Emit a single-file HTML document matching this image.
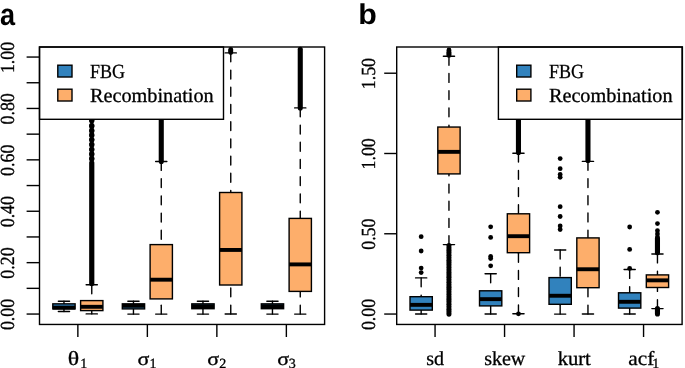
<!DOCTYPE html>
<html><head><meta charset="utf-8"><style>
html,body{margin:0;padding:0;background:#fff;width:685px;height:368px;overflow:hidden;}
svg{display:block;will-change:transform;text-rendering:geometricPrecision;}
.sf{font-family:"Liberation Serif",serif}
.sf text{stroke:#000;stroke-width:0.3px}
.ss{font-family:"Liberation Sans",sans-serif}
</style></head><body>
<svg width="685" height="368" viewBox="0 0 685 368">
<rect width="685" height="368" fill="#fff"/>
<g fill="#000">
<circle cx="91.76" cy="105.6" r="2.6"/>
<circle cx="91.76" cy="106.4" r="2.6"/>
<circle cx="91.76" cy="110.3" r="2.6"/>
<circle cx="91.76" cy="111.1" r="2.6"/>
<circle cx="91.76" cy="115" r="2.6"/>
<circle cx="91.76" cy="115.8" r="2.6"/>
<circle cx="91.76" cy="119.9" r="2.6"/>
<circle cx="91.76" cy="120.7" r="2.6"/>
<circle cx="91.76" cy="125.4" r="2.6"/>
<circle cx="91.76" cy="126.2" r="2.6"/>
<circle cx="91.76" cy="130.2" r="2.6"/>
<circle cx="91.76" cy="131" r="2.6"/>
<circle cx="91.76" cy="134.7" r="2.6"/>
<circle cx="91.76" cy="135.5" r="2.6"/>
<circle cx="91.76" cy="139.3" r="2.6"/>
<circle cx="91.76" cy="140.1" r="2.6"/>
<circle cx="91.76" cy="144.1" r="2.6"/>
<circle cx="91.76" cy="144.9" r="2.6"/>
<circle cx="91.76" cy="149" r="2.6"/>
<circle cx="91.76" cy="149.8" r="2.6"/>
<circle cx="91.76" cy="153.6" r="2.6"/>
<circle cx="91.76" cy="154.4" r="2.6"/>
<circle cx="91.76" cy="158.2" r="2.6"/>
<circle cx="91.76" cy="159" r="2.6"/>
<rect x="89.16" y="160.2" width="5.2" height="126" rx="2.6"/>
<rect x="158.71" y="97.45" width="5.1" height="66.6" rx="2.55"/>
<circle cx="230.76" cy="49.5" r="2.4"/>
<circle cx="230.76" cy="50.5" r="2.4"/>
<circle cx="230.76" cy="51.5" r="2.4"/>
<circle cx="230.76" cy="52.5" r="2.4"/>
<rect x="297.71" y="46.65" width="5.1" height="63.8" rx="2.55"/>
</g>
<g stroke="#000" stroke-width="1.4" stroke-linecap="round" fill="none">
<line x1="63.96" y1="301.3" x2="63.96" y2="303.85" stroke-dasharray="8.9 8.3"/>
<line x1="63.96" y1="311.5" x2="63.96" y2="308.9" stroke-dasharray="8.9 8.3"/>
<line x1="58.36" y1="301.3" x2="69.56" y2="301.3"/>
<line x1="58.36" y1="311.5" x2="69.56" y2="311.5"/>
<rect x="52.81" y="303.85" width="22.3" height="5.05" fill="#3182bd"/>
<line x1="52.81" y1="307.6" x2="75.11" y2="307.6" stroke-width="3.9" stroke-linecap="butt"/>
<line x1="91.76" y1="284.8" x2="91.76" y2="300.6" stroke-dasharray="8.9 8.3"/>
<line x1="91.76" y1="313.9" x2="91.76" y2="310.6" stroke-dasharray="8.9 8.3"/>
<line x1="86.16" y1="284.8" x2="97.36" y2="284.8"/>
<line x1="86.16" y1="313.9" x2="97.36" y2="313.9"/>
<rect x="80.61" y="300.6" width="22.3" height="10" fill="#fdae6b"/>
<line x1="80.61" y1="306.8" x2="102.91" y2="306.8" stroke-width="3.9" stroke-linecap="butt"/>
<line x1="133.46" y1="301.3" x2="133.46" y2="303.85" stroke-dasharray="8.9 8.3"/>
<line x1="133.46" y1="314.1" x2="133.46" y2="308.9" stroke-dasharray="8.9 8.3"/>
<line x1="127.86" y1="301.3" x2="139.06" y2="301.3"/>
<line x1="127.86" y1="314.1" x2="139.06" y2="314.1"/>
<rect x="122.31" y="303.85" width="22.3" height="5.05" fill="#3182bd"/>
<line x1="122.31" y1="305.8" x2="144.61" y2="305.8" stroke-width="3.9" stroke-linecap="butt"/>
<line x1="161.26" y1="161.5" x2="161.26" y2="244.6" stroke-dasharray="8.9 8.3"/>
<line x1="161.26" y1="314.1" x2="161.26" y2="298.9" stroke-dasharray="8.9 8.3"/>
<line x1="155.66" y1="161.5" x2="166.86" y2="161.5"/>
<line x1="155.66" y1="314.1" x2="166.86" y2="314.1"/>
<rect x="150.11" y="244.6" width="22.3" height="54.3" fill="#fdae6b"/>
<line x1="150.11" y1="279.7" x2="172.41" y2="279.7" stroke-width="3.9" stroke-linecap="butt"/>
<line x1="202.96" y1="301.3" x2="202.96" y2="303.85" stroke-dasharray="8.9 8.3"/>
<line x1="202.96" y1="314.1" x2="202.96" y2="308.7" stroke-dasharray="8.9 8.3"/>
<line x1="197.36" y1="301.3" x2="208.56" y2="301.3"/>
<line x1="197.36" y1="314.1" x2="208.56" y2="314.1"/>
<rect x="191.81" y="303.85" width="22.3" height="4.85" fill="#3182bd"/>
<line x1="191.81" y1="306.2" x2="214.11" y2="306.2" stroke-width="3.9" stroke-linecap="butt"/>
<line x1="230.76" y1="52.9" x2="230.76" y2="192.5" stroke-dasharray="8.9 8.3"/>
<line x1="230.76" y1="314" x2="230.76" y2="285" stroke-dasharray="8.9 8.3"/>
<line x1="225.16" y1="52.9" x2="236.36" y2="52.9"/>
<line x1="225.16" y1="314" x2="236.36" y2="314"/>
<rect x="219.61" y="192.5" width="22.3" height="92.5" fill="#fdae6b"/>
<line x1="219.61" y1="249.95" x2="241.91" y2="249.95" stroke-width="3.9" stroke-linecap="butt"/>
<line x1="272.46" y1="301.3" x2="272.46" y2="303.85" stroke-dasharray="8.9 8.3"/>
<line x1="272.46" y1="314.1" x2="272.46" y2="308.7" stroke-dasharray="8.9 8.3"/>
<line x1="266.86" y1="301.3" x2="278.06" y2="301.3"/>
<line x1="266.86" y1="314.1" x2="278.06" y2="314.1"/>
<rect x="261.31" y="303.85" width="22.3" height="4.85" fill="#3182bd"/>
<line x1="261.31" y1="306.2" x2="283.61" y2="306.2" stroke-width="3.9" stroke-linecap="butt"/>
<line x1="300.26" y1="107.9" x2="300.26" y2="218.4" stroke-dasharray="8.9 8.3"/>
<line x1="300.26" y1="314.1" x2="300.26" y2="291.4" stroke-dasharray="8.9 8.3"/>
<line x1="294.66" y1="107.9" x2="305.86" y2="107.9"/>
<line x1="294.66" y1="314.1" x2="305.86" y2="314.1"/>
<rect x="289.11" y="218.4" width="22.3" height="73" fill="#fdae6b"/>
<line x1="289.11" y1="264.4" x2="311.41" y2="264.4" stroke-width="3.9" stroke-linecap="butt"/>
</g>
<g fill="#000">
<circle cx="421.16" cy="236.7" r="2.4"/>
<circle cx="421.16" cy="251" r="2.4"/>
<circle cx="421.16" cy="268.1" r="2.4"/>
<circle cx="421.16" cy="272.6" r="2.4"/>
<circle cx="448.96" cy="50" r="2.4"/>
<circle cx="448.96" cy="51.08" r="2.4"/>
<circle cx="448.96" cy="52.16" r="2.4"/>
<circle cx="448.96" cy="53.24" r="2.4"/>
<circle cx="448.96" cy="54.32" r="2.4"/>
<circle cx="448.96" cy="55.4" r="2.4"/>
<circle cx="448.96" cy="245.5" r="2.55"/>
<circle cx="448.96" cy="247.95" r="2.55"/>
<circle cx="448.96" cy="250.4" r="2.55"/>
<circle cx="448.96" cy="252.85" r="2.55"/>
<circle cx="448.96" cy="255.3" r="2.55"/>
<circle cx="448.96" cy="257.75" r="2.55"/>
<circle cx="448.96" cy="260.2" r="2.55"/>
<circle cx="448.96" cy="262.65" r="2.55"/>
<circle cx="448.96" cy="265.1" r="2.55"/>
<circle cx="448.96" cy="267.55" r="2.55"/>
<circle cx="448.96" cy="270" r="2.55"/>
<circle cx="448.96" cy="272.45" r="2.55"/>
<circle cx="448.96" cy="274.9" r="2.55"/>
<circle cx="448.96" cy="277.35" r="2.55"/>
<circle cx="448.96" cy="279.8" r="2.55"/>
<circle cx="448.96" cy="282.25" r="2.55"/>
<circle cx="448.96" cy="284.7" r="2.55"/>
<circle cx="448.96" cy="287.15" r="2.55"/>
<circle cx="448.96" cy="289.6" r="2.55"/>
<circle cx="448.96" cy="292.05" r="2.55"/>
<circle cx="448.96" cy="294.5" r="2.55"/>
<circle cx="448.96" cy="296.95" r="2.55"/>
<circle cx="448.96" cy="299.4" r="2.55"/>
<circle cx="448.96" cy="301.85" r="2.55"/>
<circle cx="448.96" cy="304.3" r="2.55"/>
<circle cx="448.96" cy="306.75" r="2.55"/>
<circle cx="448.96" cy="309.2" r="2.55"/>
<circle cx="448.96" cy="311.65" r="2.55"/>
<circle cx="448.96" cy="314.1" r="2.55"/>
<circle cx="490.66" cy="226.8" r="2.4"/>
<circle cx="490.66" cy="237.4" r="2.4"/>
<circle cx="490.66" cy="256.5" r="2.4"/>
<circle cx="490.66" cy="258.6" r="2.4"/>
<circle cx="490.66" cy="265.8" r="2.4"/>
<rect x="515.91" y="97.45" width="5.1" height="57.5" rx="2.55"/>
<circle cx="518.46" cy="313.8" r="2.4"/>
<circle cx="560.16" cy="158.6" r="2.4"/>
<circle cx="560.16" cy="168.7" r="2.4"/>
<circle cx="560.16" cy="174.5" r="2.4"/>
<circle cx="560.16" cy="177.3" r="2.4"/>
<circle cx="560.16" cy="206.7" r="2.4"/>
<circle cx="560.16" cy="216.5" r="2.4"/>
<circle cx="560.16" cy="226" r="2.4"/>
<circle cx="560.16" cy="229.5" r="2.4"/>
<rect x="585.41" y="97.45" width="5.1" height="65.6" rx="2.55"/>
<circle cx="629.66" cy="227" r="2.4"/>
<circle cx="629.66" cy="249.4" r="2.4"/>
<circle cx="629.66" cy="268.4" r="2.4"/>
<circle cx="657.46" cy="212.3" r="2.4"/>
<circle cx="657.46" cy="223.6" r="2.4"/>
<circle cx="657.46" cy="230.7" r="2.4"/>
<circle cx="657.46" cy="234" r="2.4"/>
<circle cx="657.46" cy="237.1" r="2.4"/>
<rect x="654.91" y="235.95" width="5.1" height="19.4" rx="2.55"/>
<rect x="654.91" y="306.05" width="5.1" height="10.4" rx="2.55"/>
</g>
<g stroke="#000" stroke-width="1.4" stroke-linecap="round" fill="none">
<line x1="421.16" y1="277.9" x2="421.16" y2="296.7" stroke-dasharray="8.9 8.3"/>
<line x1="421.16" y1="314" x2="421.16" y2="310.1" stroke-dasharray="8.9 8.3"/>
<line x1="415.56" y1="277.9" x2="426.76" y2="277.9"/>
<line x1="415.56" y1="314" x2="426.76" y2="314"/>
<rect x="410.01" y="296.7" width="22.3" height="13.4" fill="#3182bd"/>
<line x1="410.01" y1="304.85" x2="432.31" y2="304.85" stroke-width="3.9" stroke-linecap="butt"/>
<line x1="448.96" y1="56.3" x2="448.96" y2="127.05" stroke-dasharray="8.9 8.3"/>
<line x1="448.96" y1="244.6" x2="448.96" y2="173.9" stroke-dasharray="8.9 8.3"/>
<line x1="443.36" y1="56.3" x2="454.56" y2="56.3"/>
<line x1="443.36" y1="244.6" x2="454.56" y2="244.6"/>
<rect x="437.81" y="127.05" width="22.3" height="46.85" fill="#fdae6b"/>
<line x1="437.81" y1="151.85" x2="460.11" y2="151.85" stroke-width="3.9" stroke-linecap="butt"/>
<line x1="490.66" y1="273.8" x2="490.66" y2="290.8" stroke-dasharray="8.9 8.3"/>
<line x1="490.66" y1="314" x2="490.66" y2="305.9" stroke-dasharray="8.9 8.3"/>
<line x1="485.06" y1="273.8" x2="496.26" y2="273.8"/>
<line x1="485.06" y1="314" x2="496.26" y2="314"/>
<rect x="479.51" y="290.8" width="22.3" height="15.1" fill="#3182bd"/>
<line x1="479.51" y1="299.15" x2="501.81" y2="299.15" stroke-width="3.9" stroke-linecap="butt"/>
<line x1="518.46" y1="153.2" x2="518.46" y2="213.8" stroke-dasharray="8.9 8.3"/>
<line x1="518.46" y1="313.8" x2="518.46" y2="252.7" stroke-dasharray="8.9 8.3"/>
<line x1="512.86" y1="153.2" x2="524.06" y2="153.2"/>
<line x1="512.86" y1="313.8" x2="524.06" y2="313.8"/>
<rect x="507.31" y="213.8" width="22.3" height="38.9" fill="#fdae6b"/>
<line x1="507.31" y1="236.2" x2="529.61" y2="236.2" stroke-width="3.9" stroke-linecap="butt"/>
<line x1="560.16" y1="250.05" x2="560.16" y2="277.6" stroke-dasharray="8.9 8.3"/>
<line x1="560.16" y1="314.1" x2="560.16" y2="304.3" stroke-dasharray="8.9 8.3"/>
<line x1="554.56" y1="250.05" x2="565.76" y2="250.05"/>
<line x1="554.56" y1="314.1" x2="565.76" y2="314.1"/>
<rect x="549.01" y="277.6" width="22.3" height="26.7" fill="#3182bd"/>
<line x1="549.01" y1="295.75" x2="571.31" y2="295.75" stroke-width="3.9" stroke-linecap="butt"/>
<line x1="587.96" y1="161.4" x2="587.96" y2="237.9" stroke-dasharray="8.9 8.3"/>
<line x1="587.96" y1="314" x2="587.96" y2="287.7" stroke-dasharray="8.9 8.3"/>
<line x1="582.36" y1="161.4" x2="593.56" y2="161.4"/>
<line x1="582.36" y1="314" x2="593.56" y2="314"/>
<rect x="576.81" y="237.9" width="22.3" height="49.8" fill="#fdae6b"/>
<line x1="576.81" y1="269.25" x2="599.11" y2="269.25" stroke-width="3.9" stroke-linecap="butt"/>
<line x1="629.66" y1="269.5" x2="629.66" y2="292.8" stroke-dasharray="8.9 8.3"/>
<line x1="629.66" y1="314" x2="629.66" y2="308.1" stroke-dasharray="8.9 8.3"/>
<line x1="624.06" y1="269.5" x2="635.26" y2="269.5"/>
<line x1="624.06" y1="314" x2="635.26" y2="314"/>
<rect x="618.51" y="292.8" width="22.3" height="15.3" fill="#3182bd"/>
<line x1="618.51" y1="301.8" x2="640.81" y2="301.8" stroke-width="3.9" stroke-linecap="butt"/>
<line x1="657.46" y1="254" x2="657.46" y2="274.9" stroke-dasharray="8.9 8.3"/>
<line x1="657.46" y1="308.6" x2="657.46" y2="287.5" stroke-dasharray="8.9 8.3"/>
<line x1="651.86" y1="254" x2="663.06" y2="254"/>
<line x1="651.86" y1="308.6" x2="663.06" y2="308.6"/>
<rect x="646.31" y="274.9" width="22.3" height="12.6" fill="#fdae6b"/>
<line x1="646.31" y1="280.35" x2="668.61" y2="280.35" stroke-width="3.9" stroke-linecap="butt"/>
</g>
<g class="sf" fill="#000">
<rect x="39.5" y="47" width="184" height="72.3" fill="#fff" stroke="#000" stroke-width="1.4"/>
<rect x="57.8" y="65.2" width="14.2" height="11.8" fill="#3182bd" stroke="#000" stroke-width="1.4"/>
<rect x="57.8" y="89.2" width="14.2" height="11.8" fill="#fdae6b" stroke="#000" stroke-width="1.4"/>
<text x="90" y="77.6" font-size="20" textLength="35" lengthAdjust="spacingAndGlyphs">FBG</text>
<text x="90" y="101.6" font-size="20" textLength="123.7" lengthAdjust="spacingAndGlyphs">Recombination</text>
<rect x="498.4" y="47" width="184" height="72.3" fill="#fff" stroke="#000" stroke-width="1.4"/>
<rect x="516.7" y="65.2" width="14.2" height="11.8" fill="#3182bd" stroke="#000" stroke-width="1.4"/>
<rect x="516.7" y="89.2" width="14.2" height="11.8" fill="#fdae6b" stroke="#000" stroke-width="1.4"/>
<text x="548.9" y="77.6" font-size="20" textLength="35" lengthAdjust="spacingAndGlyphs">FBG</text>
<text x="548.9" y="101.6" font-size="20" textLength="123.7" lengthAdjust="spacingAndGlyphs">Recombination</text>
</g>
<g stroke="#000" stroke-width="1.4" fill="none" stroke-linecap="square">
<rect x="39.5" y="47" width="285.1" height="277.45"/>
<rect x="396.7" y="47" width="285.4" height="277.45"/>
</g>
<g stroke="#000" stroke-width="1.4" stroke-linecap="butt">
<line x1="26.6" y1="314.05" x2="39.5" y2="314.05"/>
<line x1="26.6" y1="288.35" x2="39.5" y2="288.35"/>
<line x1="26.6" y1="262.65" x2="39.5" y2="262.65"/>
<line x1="26.6" y1="236.95" x2="39.5" y2="236.95"/>
<line x1="26.6" y1="211.25" x2="39.5" y2="211.25"/>
<line x1="26.6" y1="185.55" x2="39.5" y2="185.55"/>
<line x1="26.6" y1="159.85" x2="39.5" y2="159.85"/>
<line x1="26.6" y1="134.15" x2="39.5" y2="134.15"/>
<line x1="26.6" y1="108.45" x2="39.5" y2="108.45"/>
<line x1="26.6" y1="82.75" x2="39.5" y2="82.75"/>
<line x1="26.6" y1="57.05" x2="39.5" y2="57.05"/>
<line x1="384.2" y1="314.05" x2="396.7" y2="314.05"/>
<line x1="384.2" y1="233.77" x2="396.7" y2="233.77"/>
<line x1="384.2" y1="153.49" x2="396.7" y2="153.49"/>
<line x1="384.2" y1="73.21" x2="396.7" y2="73.21"/>
<line x1="77.86" y1="324.45" x2="77.86" y2="337"/>
<line x1="435.06" y1="324.45" x2="435.06" y2="337"/>
<line x1="147.36" y1="324.45" x2="147.36" y2="337"/>
<line x1="504.56" y1="324.45" x2="504.56" y2="337"/>
<line x1="216.86" y1="324.45" x2="216.86" y2="337"/>
<line x1="574.06" y1="324.45" x2="574.06" y2="337"/>
<line x1="286.36" y1="324.45" x2="286.36" y2="337"/>
<line x1="643.56" y1="324.45" x2="643.56" y2="337"/>
</g>
<g class="sf" font-size="20" fill="#000" text-anchor="middle">
<text transform="translate(13.6 314.45) rotate(-90)" textLength="31.3" lengthAdjust="spacingAndGlyphs">0.00</text>
<text transform="translate(13.6 263.05) rotate(-90)" textLength="31.3" lengthAdjust="spacingAndGlyphs">0.20</text>
<text transform="translate(13.6 211.65) rotate(-90)" textLength="31.3" lengthAdjust="spacingAndGlyphs">0.40</text>
<text transform="translate(13.6 160.25) rotate(-90)" textLength="31.3" lengthAdjust="spacingAndGlyphs">0.60</text>
<text transform="translate(13.6 108.85) rotate(-90)" textLength="31.3" lengthAdjust="spacingAndGlyphs">0.80</text>
<text transform="translate(13.6 57.45) rotate(-90)" textLength="31.3" lengthAdjust="spacingAndGlyphs">1.00</text>
<text transform="translate(374.5 314.45) rotate(-90)" textLength="31.3" lengthAdjust="spacingAndGlyphs">0.00</text>
<text transform="translate(374.5 234.17) rotate(-90)" textLength="31.3" lengthAdjust="spacingAndGlyphs">0.50</text>
<text transform="translate(374.5 153.89) rotate(-90)" textLength="31.3" lengthAdjust="spacingAndGlyphs">1.00</text>
<text transform="translate(374.5 73.61) rotate(-90)" textLength="31.3" lengthAdjust="spacingAndGlyphs">1.50</text>
</g>
<g class="sf" font-size="20" fill="#000">
<text transform="translate(67.85 365.2) scale(1.19 1)" font-size="20">θ</text>
<text x="80.27" y="368.3" font-size="14">1</text>
<text transform="translate(137.55 364.9) scale(1.19 1)" font-size="18.5">σ</text>
<text x="149.47" y="368.3" font-size="14">1</text>
<text transform="translate(207.15 364.9) scale(1.19 1)" font-size="18.5">σ</text>
<text x="219.28" y="368.3" font-size="14">2</text>
<text transform="translate(277.25 364.9) scale(1.19 1)" font-size="18.5">σ</text>
<text x="288.63" y="368.3" font-size="14">3</text>
<text x="435.2" y="364.8" text-anchor="middle">sd</text>
<text x="504.7" y="364.8" text-anchor="middle">skew</text>
<text x="574.25" y="364.8" text-anchor="middle" textLength="33.2" lengthAdjust="spacingAndGlyphs">kurt</text>
<text x="628.3" y="364.8" textLength="26" lengthAdjust="spacingAndGlyphs">acf</text>
<text x="652.27" y="368.3" font-size="14">1</text>
</g>
<g class="ss" font-weight="bold" fill="#000">
<text transform="translate(-0.05 24.6) scale(0.88 1)" font-size="30.8">a</text>
<text transform="translate(358.35 24.27) scale(1.06 1)" font-size="28.7">b</text>
</g>
</svg>
</body></html>
